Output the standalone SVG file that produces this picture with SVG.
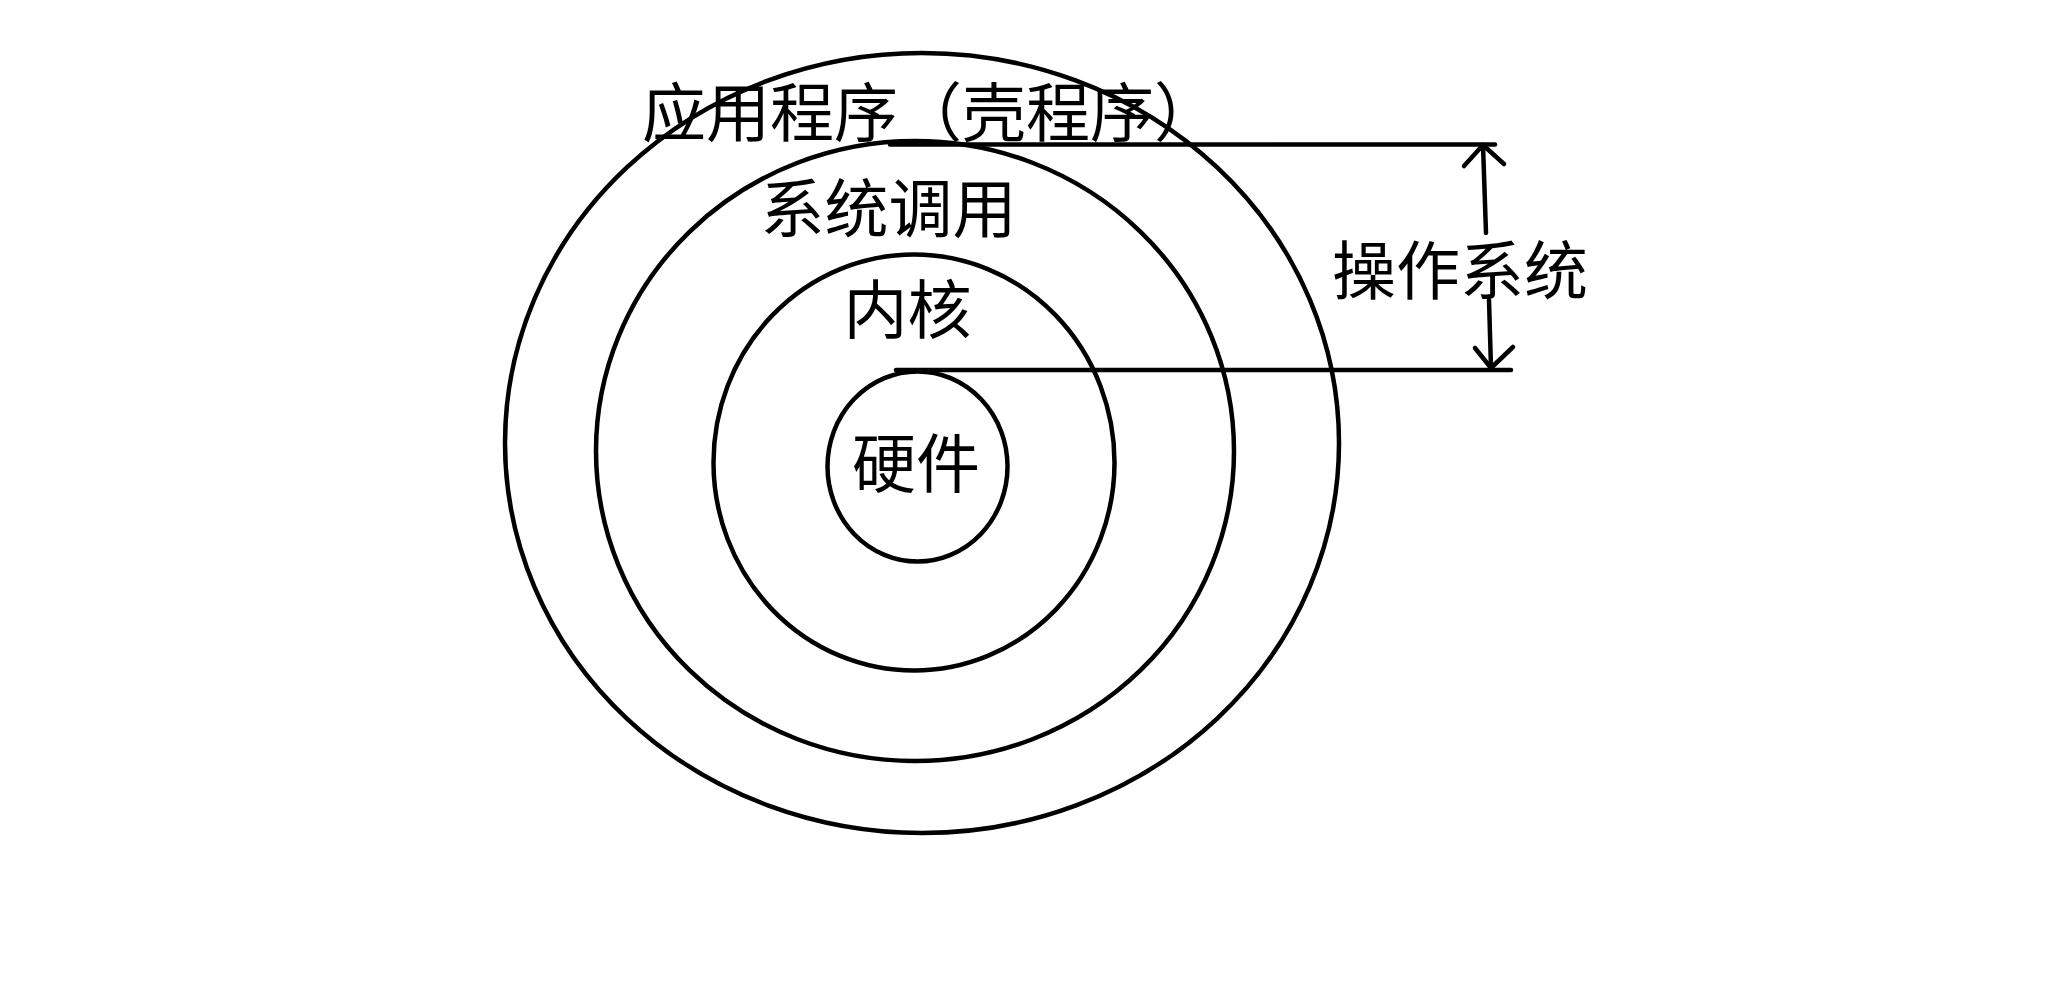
<svg xmlns="http://www.w3.org/2000/svg" width="2066" height="982" viewBox="0 0 2066 982">
<style>
.ring{fill:none;stroke:#000;stroke-width:4.5}
.ln{fill:none;stroke:#000;stroke-width:4.5;stroke-linecap:round;stroke-linejoin:round}
.t{font-family:"Noto Sans CJK SC","Noto Sans CJK TC",sans-serif;font-size:64px;fill:#000}
</style>
<rect width="2066" height="982" fill="#fff"/>
<g id="app"><ellipse class="ring" cx="922" cy="443" rx="417" ry="390"/><text class="t" x="642" y="136">应用程序（壳程序）</text></g>
<g id="syscall"><ellipse class="ring" cx="915" cy="451" rx="319" ry="310"/><text class="t" x="888.5" y="232" text-anchor="middle">系统调用</text></g>
<g id="kernel"><ellipse class="ring" cx="914" cy="462.5" rx="200.5" ry="208"/><text class="t" x="907.5" y="333" text-anchor="middle">内核</text></g>
<g id="hardware"><ellipse class="ring" cx="917.5" cy="466.5" rx="90" ry="95"/><text class="t" x="916" y="487" text-anchor="middle">硬件</text></g>
<g id="os"><text class="t" x="1460" y="294" text-anchor="middle">操作系统</text></g>
<g id="connectors">
<path class="ln" d="M890 144.5H1495"/>
<path class="ln" d="M896 370H1511"/>
<path class="ln" d="M1483 145L1486 233M1489 300L1491 368"/>
<path class="ln" d="M1464 166L1483 145L1504 164"/>
<path class="ln" d="M1475 348L1491 368L1513 347"/>
</g>
</svg>
